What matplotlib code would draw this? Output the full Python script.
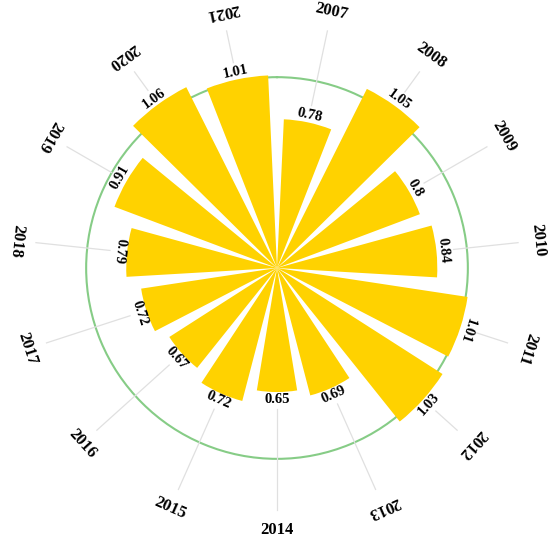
import numpy as np
import matplotlib
matplotlib.use('Agg')
import matplotlib.pyplot as plt

plt.rcParams['font.family'] = ['Liberation Serif', 'DejaVu Serif']

years = ['2007', '2008', '2009', '2010', '2011', '2012', '2013', '2014',
         '2015', '2016', '2017', '2018', '2019', '2020', '2021']
values = [0.78, 1.05, 0.8, 0.84, 1.01, 1.03, 0.69, 0.65,
          0.72, 0.67, 0.72, 0.79, 0.91, 1.06, 1.01]
value_labels = ['0.78', '1.05', '0.8', '0.84', '1.01', '1.03', '0.69', '0.65',
                '0.72', '0.67', '0.72', '0.79', '0.91', '1.06', '1.01']

bar_color = '#FFD200'
ring_color = '#86cc86'
line_color = '#e0e0e0'

n = len(years)
step = 360.0 / n
theta_deg = 12 + step * np.arange(n)   # first year sits 12 deg right of top
theta = np.deg2rad(theta_deg)

fig = plt.figure(figsize=(5.5, 5.45), dpi=100)
ax = fig.add_axes([6/550, 6/545, 542/550, 542/545], projection='polar')
ax.set_theta_zero_location('N')
ax.set_theta_direction(-1)
ax.set_ylim(0, 1.42)

ax.bar(theta, values, width=np.deg2rad(step * 0.78), color=bar_color,
       edgecolor='none', zorder=3)

# reference ring at 1.0
ax.set_rticks([1.0])
ax.set_yticklabels([])
ax.yaxis.grid(True, color=ring_color, lw=1.5)
ax.xaxis.grid(False)
ax.set_xticks([])
ax.spines['polar'].set_visible(False)
ax.set_axisbelow(True)

for t, td, v, lab, yr in zip(theta, theta_deg, values, value_labels, years):
    ax.plot([t, t], [v + 0.09, 1.27], color=line_color, lw=0.9, zorder=1)

    rot = -td
    while rot < -110:
        rot += 180
    while rot >= 90:
        rot -= 180
    ax.text(t, v + 0.038, lab, rotation=rot, rotation_mode='anchor',
            ha='center', va='center', fontsize=10.5, fontweight='bold', zorder=4)

    yrot = -(td % 180)
    ax.text(t, 1.375, yr, rotation=yrot, rotation_mode='anchor',
            ha='center', va='center', fontsize=12, fontweight='bold')

fig.savefig('out.png', dpi=100)
